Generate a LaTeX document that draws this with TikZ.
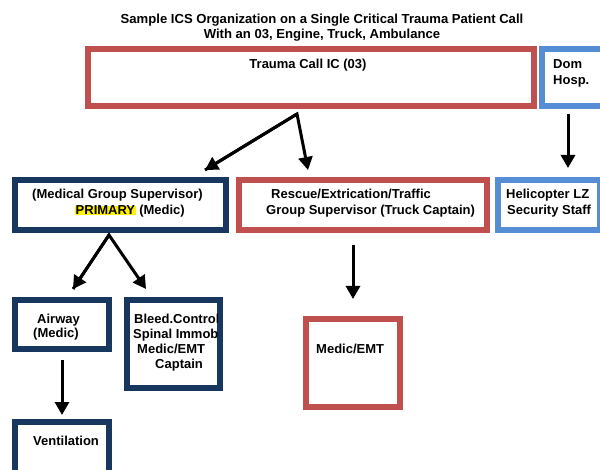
\documentclass[tikz,border=0pt]{standalone}
\usepackage{fontspec}
\setmainfont{Liberation Sans}
\usetikzlibrary{arrows.meta}
\definecolor{icsred}{RGB}{192,80,77}
\definecolor{icsnavy}{RGB}{23,55,94}
\definecolor{icsblue}{RGB}{85,142,213}
\begin{document}
\begin{tikzpicture}[x=1pt,y=-1pt,
  boxred/.style={draw=icsred,line width=6pt},
  boxnavy/.style={draw=icsnavy,line width=6pt},
  boxblue/.style={draw=icsblue,line width=6pt},
  lbl/.style={font=\fontsize{13}{15}\selectfont\bfseries,anchor=base west,inner sep=0pt},
  conn/.style={line width=3pt,-{Triangle[length=13pt,width=14pt]}}]
\useasboundingbox (0,0) rectangle (600,470);
\clip (0,0) rectangle (600,470);
% title
\node[font=\fontsize{13.1}{15}\selectfont\bfseries,align=center,inner sep=0pt] (title) at (322,27.5)
  {Sample ICS Organization on a Single Critical Trauma Patient Call\\With an 03, Engine, Truck, Ambulance};
% boxes
\draw[boxred] (88,49) rectangle (534,106);
\coordinate (trauma) at (311,77);
\draw[boxblue] (542,49) rectangle (603,106);
\coordinate (dom) at (572,77);
\draw[boxnavy] (15,180) rectangle (226,230);
\coordinate (medical) at (120,205);
\draw[boxred] (239,180) rectangle (487,230);
\coordinate (rescue) at (363,205);
\draw[boxblue] (498,180) rectangle (600,230);
\coordinate (heli) at (549,205);
\draw[boxnavy] (15,300) rectangle (109,349);
\coordinate (airway) at (62,324);
\draw[boxnavy] (127,300) rectangle (220,388);
\coordinate (bleed) at (173,344);
\draw[boxnavy] (15,422) rectangle (109,480);
\coordinate (vent) at (62,450);
\draw[boxred] (306,319) rectangle (400,407);
\coordinate (medicemt) at (353,363);
% texts
\node[lbl,anchor=base] (tTrauma) at (308,69) {Trauma Call IC (03)};
\node[lbl] (tDom1) at (553,69) {Dom};
\node[lbl] (tDom2) at (553,85) {Hosp.};
\node[lbl] (tMed1) at (32,199) {(Medical Group Supervisor)};
\node[lbl] (tMed2) at (75,215) {{\fboxsep=0.5pt\colorbox{yellow}{PRIMARY}} (Medic)};
\node[lbl] (tRes1) at (271,199) {Rescue/Extrication/Traffic};
\node[lbl] (tRes2) at (266,215) {Group Supervisor (Truck Captain)};
\node[lbl] (tHeli1) at (506,199) {Helicopter LZ};
\node[lbl] (tHeli2) at (507,215) {Security Staff};
\node[lbl] (tAir1) at (37,324) {Airway};
\node[lbl] (tAir2) at (33,338) {(Medic)};
\begin{scope}
\clip (130,303) rectangle (217,385);
\node[lbl] (tBl1) at (134,324) {Bleed.Control};
\node[lbl] (tBl2) at (133,339) {Spinal Immob};
\node[lbl] (tBl3) at (137,354) {Medic/EMT};
\node[lbl] (tBl4) at (155,369) {Captain};
\end{scope}
\node[lbl] (tVent) at (33,445) {Ventilation};
\node[lbl] (tMedic) at (316,354) {Medic/EMT};
% connectors
\coordinate (aTr) at (297,114);
\coordinate (aMedIn) at (205,170);
\coordinate (aResIn) at (308,170);
\coordinate (aDom) at (568,114);
\coordinate (aHeliIn) at (568,168);
\coordinate (aMed) at (109,235);
\coordinate (aAirIn) at (73,289);
\coordinate (aBlIn) at (146,289);
\coordinate (aRes) at (353,245);
\coordinate (aMeIn) at (353,299);
\coordinate (aAir) at (62,360);
\coordinate (aVentIn) at (62,415);
\draw[conn,line join=miter] (aMedIn) -- (aTr) -- (aResIn);
\draw[conn] (aTr) -- (aMedIn);
\draw[conn] (aDom) -- (aHeliIn);
\draw[conn,line join=miter] (aAirIn) -- (aMed) -- (aBlIn);
\draw[conn] (aMed) -- (aAirIn);
\draw[conn] (aRes) -- (aMeIn);
\draw[conn] (aAir) -- (aVentIn);
\end{tikzpicture}
\end{document}
